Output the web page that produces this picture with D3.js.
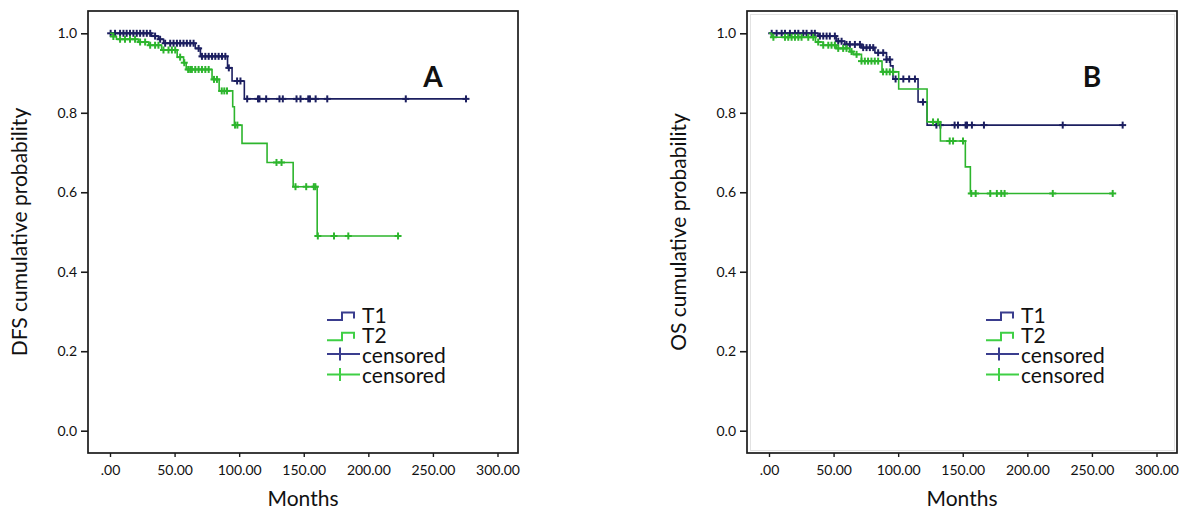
<!DOCTYPE html>
<html lang="en">
<head>
<meta charset="utf-8">
<title>Kaplan-Meier DFS and OS by T stage</title>
<script src="https://d3js.org/d3.v7.min.js"></script>
<style>
  body { margin: 0; background: #fff; }
  svg text { font-family: Lato, "Open Sans", sans-serif; fill: #111; }
</style>
</head>
<body>
<div id="chart"></div>
<script>

// ---- data (months, cumulative probability) ----
// panel A: disease free survival
var dfsT1Time = [0, 32, 37.5, 41.5, 66, 70, 91, 94.5, 104];
var dfsT1Surv = [1.0, 0.993, 0.985, 0.975, 0.962, 0.942, 0.913, 0.88, 0.835];
var dfsT1End = 275.6;
var dfsT1Censor = [0.5, 3.9, 7.8, 10.4, 12.9, 15.5, 18.1, 20.7, 23.3, 25.9, 28.5, 31.1, 34.9, 38.8, 42.7, 46.6,
  49.2, 51.8, 54.3, 56.9, 59.5, 62.1, 64.7, 68.6, 71.2, 73.8, 76.4, 79, 81.5, 84.1, 86.7, 89.3, 92, 98.4, 101,
  106.2, 114.6, 115.7, 120.9, 131.2, 133.8, 144.4, 147.5, 153.5, 154.8, 159.2, 168.2, 229, 275.6];

var dfsT2Time = [0, 2.5, 5, 22, 30, 40, 52, 57, 59, 79, 84.5, 95, 96.3, 102.2, 121.6, 141.8, 160.4];
var dfsT2Surv = [1.0, 0.992, 0.985, 0.978, 0.97, 0.958, 0.94, 0.926, 0.909, 0.884, 0.855, 0.815, 0.769, 0.723, 0.675, 0.614, 0.49];
var dfsT2End = 223;
var dfsT2Censor = [2.6, 7.8, 11.6, 15.5, 19.4, 23.3, 27.2, 31.1, 34.9, 37.5, 41.4, 45.3, 47.9, 50.5, 54.3, 57.5,
  60.5, 62.1, 63.4, 66, 68.6, 71.2, 73.8, 76.4, 80.5, 82.8, 86.5, 88.5, 90.6, 96.8, 98.6, 128.9, 132.8,
  143.6, 151.9, 157.8, 159, 160.9, 173.4, 184.5, 223];

// panel B: overall survival
var osT1Time = [0, 38, 52, 58.7, 71.6, 82, 91, 94, 96, 115.4, 122.4];
var osT1Surv = [1.0, 0.993, 0.98, 0.972, 0.964, 0.951, 0.934, 0.918, 0.885, 0.827, 0.769];
var osT1End = 273.8;
var osT1Censor = [2.1, 5.9, 9.8, 12.4, 16.2, 20.1, 22.7, 26.5, 29.1, 33, 35.5, 39.4, 42, 44.6, 47.1, 51, 53.6,
  56.2, 60, 62.6, 66.5, 70.4, 72.9, 75.5, 78.1, 80.7, 84.5, 88.4, 91, 93.5, 98, 104, 108.5, 113, 119.2,
  129.6, 132.7, 143.7, 146.3, 152.2, 153.3, 157.1, 166.4, 227.4, 273.8];

var osT2Time = [0, 2, 36, 42, 52, 62.6, 65.1, 71.6, 87.5, 100.4, 122.4, 132.7, 152, 155.9];
var osT2Surv = [1.0, 0.99, 0.978, 0.97, 0.962, 0.954, 0.947, 0.93, 0.903, 0.86, 0.777, 0.729, 0.664, 0.597];
var osT2End = 266.1;
var osT2Censor = [3.4, 12.4, 14.9, 17.5, 20.1, 22.7, 25.2, 30.4, 34.3, 38.1, 42, 45.9, 48.4, 51, 53.6, 57.4,
  60, 63.9, 67.8, 71.6, 74.2, 76.7, 79.3, 81.9, 84.5, 88.3, 91, 93.5, 96.1, 127, 130.8, 139.9, 142.5,
  150.2, 156.6, 160, 171.3, 176.4, 179.8, 182.4, 219.7, 266.1];

var xTicks = [0, 50, 100, 150, 200, 250, 300];
var yTicks = [0, 0.2, 0.4, 0.6, 0.8, 1.0];
var legendLabels = ["T1", "T2", "censored", "censored"];

// ---- drawing ----
var w = 1181, h = 510;
var navy = "#1c1f60", green = "#2db52d";
var navyLeg = "#3a3d8e", greenLeg = "#3fcf45";

var svg = d3.select("#chart").append("svg")
  .attr("width", w)
  .attr("height", h);

svg.append("rect").attr("width", w).attr("height", h).attr("fill", "#fff");

function survAt(times, surv, t) {
  var i = d3.bisectRight(times, t) - 1;
  return surv[Math.max(i, 0)];
}

function drawPanel(left, p) {
  var top = 11, bottom = 453, right = left + 430;
  var g = svg.append("g");

  var x = d3.scaleLinear().domain([0, 300]).range([left + 22, left + 409.5]);
  var y = d3.scaleLinear().domain([0, 1]).range([430.7, 33.3]);

  if (p.inner) {
    g.append("rect")
      .attr("x", left + 3.5).attr("y", top + 3.5)
      .attr("width", right - left - 6).attr("height", bottom - top - 6)
      .attr("fill", "none").attr("stroke", "#e2e2e2").attr("stroke-width", 1);
  }

  // curves
  var line = d3.line()
    .x(function(d) { return x(d[0]); })
    .y(function(d) { return y(d[1]); })
    .curve(d3.curveStepAfter);

  p.series.forEach(function(s) {
    var pts = s.time.map(function(t, i) { return [t, s.surv[i]]; });
    pts.push([s.end, s.surv[s.surv.length - 1]]);
    g.append("path")
      .attr("d", line(pts))
      .attr("fill", "none")
      .attr("stroke", s.color)
      .attr("stroke-width", 1.6);

    var marks = g.append("g")
      .attr("stroke", s.color)
      .attr("stroke-width", 2);
    s.censor.forEach(function(t) {
      var cx = x(t), cy = y(survAt(s.time, s.surv, t));
      marks.append("line").attr("x1", cx).attr("x2", cx).attr("y1", cy - 3.5).attr("y2", cy + 3.5);
      marks.append("line").attr("x1", cx - 3.5).attr("x2", cx + 3.5).attr("y1", cy).attr("y2", cy);
    });
  });

  // frame
  g.append("rect")
    .attr("x", left).attr("y", top)
    .attr("width", right - left).attr("height", bottom - top)
    .attr("fill", "none")
    .attr("stroke", "#1a1a1a")
    .attr("stroke-width", 1.7);

  // axes
  var yAxis = d3.axisLeft(y).tickValues(yTicks).tickFormat(d3.format(".1f")).tickSize(7).tickPadding(4);
  var ya = g.append("g").attr("transform", "translate(" + left + ",0)").call(yAxis);
  ya.select(".domain").remove();
  ya.selectAll("line").attr("stroke", "#1a1a1a").attr("stroke-width", 1.6);
  ya.selectAll("text").style("font-size", "14px").style("font-family", "Lato, 'Open Sans', sans-serif").attr("fill", "#111");

  var xAxis = d3.axisBottom(x).tickValues(xTicks)
    .tickFormat(function(d) { return d === 0 ? ".00" : d.toFixed(2); })
    .tickSize(4).tickPadding(8);
  var xa = g.append("g").attr("transform", "translate(0," + bottom + ")").call(xAxis);
  xa.select(".domain").remove();
  xa.selectAll("line").attr("stroke", "#1a1a1a").attr("stroke-width", 1.4);
  xa.selectAll("text").style("font-size", "14px").style("font-family", "Lato, 'Open Sans', sans-serif").attr("fill", "#111");

  // titles
  g.append("text")
    .attr("transform", "translate(" + (left - 61) + "," + ((top + bottom) / 2) + ") rotate(-90)")
    .attr("text-anchor", "middle")
    .style("font-size", "21px")
    .text(p.yTitle);

  g.append("text")
    .attr("x", (left + right) / 2)
    .attr("y", 506)
    .attr("text-anchor", "middle")
    .style("font-size", "21px")
    .text("Months");

  g.append("text")
    .attr("x", left + 345)
    .attr("y", 87)
    .attr("text-anchor", "middle")
    .style("font-size", "28px")
    .style("font-weight", "bold")
    .text(p.label);

  // legend: symbols, then one multi-line text block for the labels
  var lx = left + 239, tx = left + 274;
  var legColors = [navyLeg, greenLeg, navyLeg, greenLeg];
  var rowBase = function(i) { return 322.5 + i * 20.3; };
  legendLabels.forEach(function(lab, i) {
    var base = rowBase(i);
    if (i < 2) {
      var yb = base - 2.5;
      g.append("path")
        .attr("d", "M" + lx + "," + yb + "H" + (lx + 15) + "V" + (yb - 7.5) + "H" + (lx + 27) + "V" + (yb - 1.5))
        .attr("fill", "none").attr("stroke", legColors[i]).attr("stroke-width", 2);
    } else {
      var ym = base - 9;
      g.append("line").attr("x1", lx).attr("x2", lx + 33).attr("y1", ym).attr("y2", ym)
        .attr("stroke", legColors[i]).attr("stroke-width", 2);
      g.append("line").attr("x1", lx + 13).attr("x2", lx + 13).attr("y1", ym - 6.5).attr("y2", ym + 6.5)
        .attr("stroke", legColors[i]).attr("stroke-width", 2);
    }
  });
  g.append("text")
    .style("font-size", "21px")
    .selectAll("tspan")
    .data(legendLabels)
    .enter().append("tspan")
      .attr("x", tx)
      .attr("y", function(d, i) { return rowBase(i); })
      .text(function(d) { return d; });
}

drawPanel(88, {
  label: "A",
  yTitle: "DFS cumulative probability",
  series: [
    { time: dfsT1Time, surv: dfsT1Surv, end: dfsT1End, censor: dfsT1Censor, color: navy },
    { time: dfsT2Time, surv: dfsT2Surv, end: dfsT2End, censor: dfsT2Censor, color: green }
  ]
});

drawPanel(747, {
  label: "B",
  yTitle: "OS cumulative probability",
  inner: true,
  series: [
    { time: osT1Time, surv: osT1Surv, end: osT1End, censor: osT1Censor, color: navy },
    { time: osT2Time, surv: osT2Surv, end: osT2End, censor: osT2Censor, color: green }
  ]
});

</script>
</body>
</html>
